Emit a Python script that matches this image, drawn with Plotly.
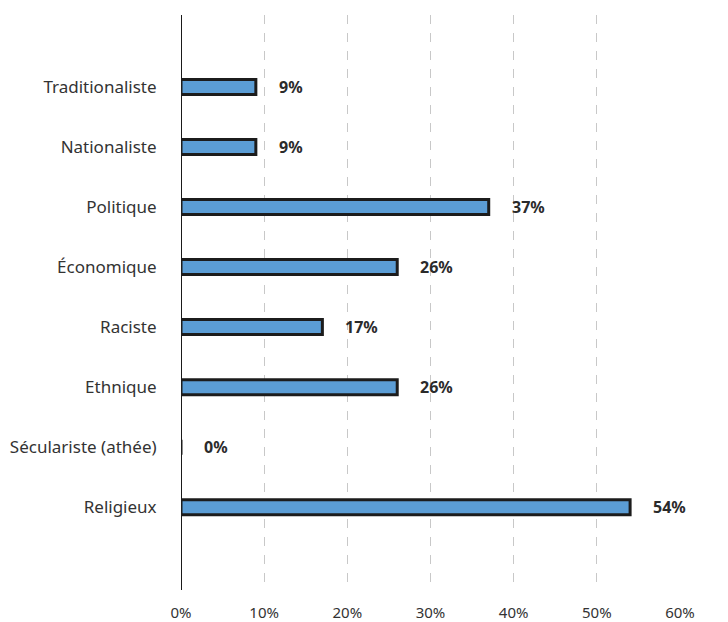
import plotly.graph_objects as go

categories = ["Traditionaliste", "Nationaliste", "Politique", "\u00c9conomique",
              "Raciste", "Ethnique", "S\u00e9culariste (ath\u00e9e)", "Religieux"]
values = [9, 9, 37, 26, 17, 26, 0, 54]
value_labels = ["9%", "9%", "37%", "26%", "17%", "26%", "0%", "54%"]
tick_vals = [0, 10, 20, 30, 40, 50, 60]
tick_text = ["0%", "10%", "20%", "30%", "40%", "50%", "60%"]

FONT = "Noto Sans"

fig = go.Figure()
fig.add_trace(go.Bar(
    x=values, y=categories, orientation="h",
    width=0.25,
    marker=dict(color="#5b9dd5", line=dict(color="#1c1c1c", width=3)),
    hoverinfo="skip",
))

for c, v, t in zip(categories, values, value_labels):
    fig.add_annotation(x=v, y=c, text=f"<b>{t}</b>", showarrow=False,
                       xanchor="left", xshift=21,
                       font=dict(family=FONT, size=16, color="#2b2b2b"))

fig.update_layout(
    width=728, height=622,
    margin=dict(l=173, r=56, t=7, b=40),
    paper_bgcolor="white", plot_bgcolor="white",
    showlegend=False,
    font=dict(family=FONT, size=14, color="#333333"),
    xaxis=dict(range=[0, 60], tickvals=tick_vals, ticktext=tick_text,
               automargin=False,
               showgrid=True, gridcolor="#c8c8c8", griddash="dash", gridwidth=1,
               zeroline=True, zerolinecolor="#1a1a1a", zerolinewidth=1,
               showline=False, ticks="outside", ticklen=9,
               tickcolor="rgba(0,0,0,0)",
               tickfont=dict(size=15, color="#333333")),
    yaxis=dict(categoryorder="array", categoryarray=categories,
               automargin=False,
               range=[8.38, -1.2], showgrid=False, zeroline=False, showline=False,
               ticks="outside", ticklen=20, tickcolor="rgba(0,0,0,0)",
               tickfont=dict(size=17, color="#333333")),
)

fig.write_html("out.html")
